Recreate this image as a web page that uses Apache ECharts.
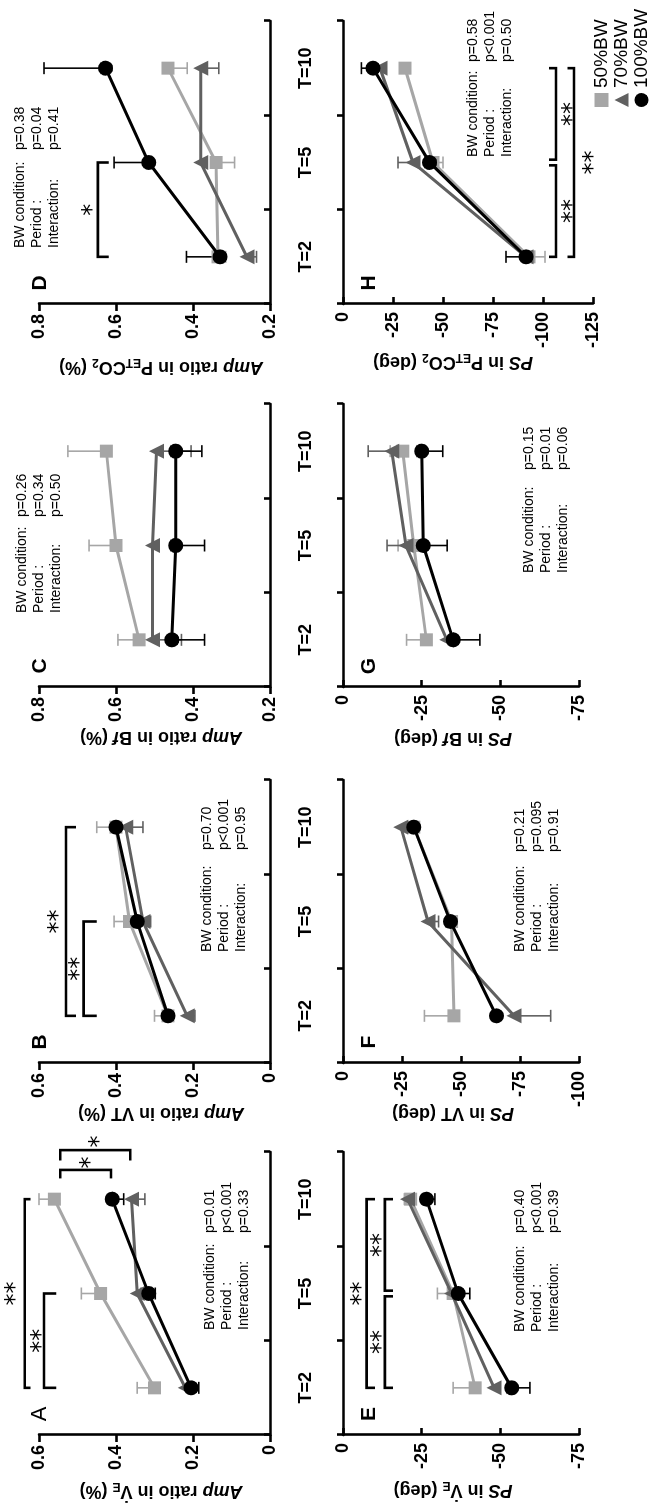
<!DOCTYPE html>
<html>
<head>
<meta charset="utf-8">
<script src="https://cdn.jsdelivr.net/npm/echarts@6/dist/echarts.min.js"></script>
<style>
html, body { margin: 0; padding: 0; background: #fff; }
#page { position: relative; width: 656px; height: 1508px; overflow: hidden; }
/* the figure is drawn landscape and turned a quarter turn to the left */
#main { position: absolute; left: 0; top: 0; width: 1508px; height: 656px;
        transform-origin: 0 0; transform: translateY(1508px) rotate(-90deg); }
</style>
</head>
<body>
<div id="page"><div id="main"></div></div>
<script>
var FONT = '"Liberation Sans", Arial, sans-serif';
var NARROW = '"Liberation Sans Narrow", "Liberation Sans", Arial, sans-serif';

var periods = ['T=2', 'T=5', 'T=10'];
var conditions = ['50%BW', '70%BW', '100%BW'];

// means, rows = 50%BW, 70%BW, 100%BW ; columns = T=2, T=5, T=10
var ampVE  = [[0.30, 0.44, 0.56], [0.22, 0.345, 0.36], [0.205, 0.315, 0.41]];
var ampVT  = [[0.265, 0.365, 0.40], [0.215, 0.33, 0.375], [0.265, 0.345, 0.40]];
var ampBf  = [[0.54, 0.60, 0.625], [0.505, 0.505, 0.495], [0.455, 0.445, 0.445]];
var ampPet = [[0.335, 0.34, 0.465], [0.26, 0.38, 0.38], [0.33, 0.515, 0.627]];
var psVE   = [[-42, -35, -21.5], [-48, -34.5, -20.5], [-53.6, -36.6, -26.5]];
var psVT   = [[-47, -46, -30], [-72.5, -36, -24.5], [-65, -45.5, -30]];
var psBf   = [[-26.5, -22.5, -19], [-33, -20, -15.5], [-35, -25.5, -25]];
var psPet  = [[-93, -45, -31], [-91.5, -35, -18.5], [-91.5, -43.3, -15]];

// one-sided error bars, signed (drawn from mean to mean + value)
var ampVEerr  = [[0.045, 0.05, 0.04], [-0.012, -0.01, -0.035], [-0.02, -0.017, -0.03]];
var ampVTerr  = [[0.035, 0.04, 0.05], [-0.02, -0.02, -0.045], [0, 0, 0]];
var ampBferr  = [[0.055, 0.07, 0.10], [-0.075, 0, -0.09], [-0.085, -0.075, -0.068]];
var ampPeterr = [[-0.02, -0.048, -0.05], [-0.025, 0, -0.047], [0.087, 0.09, 0.16]];
var psVEerr   = [[7, 5, 2], [0, 0, 0], [-5.8, -3.7, -2.7]];
var psVTerr   = [[12.5, 0, 0], [-15.5, -4.5, 0], [0, 0, 0]];
var psBferr   = [[6.3, 5, 4], [0, 6, 7.5], [-8.5, -7.6, -6.7]];
var psPeterr  = [[-8, -5, -2.5], [0, 7.5, 0], [10, 0, 5.8]];

var panelMeans = [ampVE, ampVT, ampBf, ampPet, psVE, psVT, psBf, psPet];
var panelErrs = [ampVEerr, ampVTerr, ampBferr, ampPeterr, psVEerr, psVTerr, psBferr, psPeterr];

var axisMin  = [0, 0, 0.2, 0.2, -75, -100, -75, -125];
var axisMax  = [0.6, 0.6, 0.8, 0.8, 0, 0, 0, 0];
var axisStep = [0.2, 0.2, 0.2, 0.2, 25, 25, 25, 25];

var letters = ['A', 'B', 'C', 'D', 'E', 'F', 'G', 'H'];
var axisTitles = [
  '{bi|Amp}{b| ratio in V\u0307}{s|E}{b| (%)}',
  '{bi|Amp}{b| ratio in VT (%)}',
  '{bi|Amp}{b| ratio in B}{bi|f}{b| (%)}',
  '{bi|Amp}{b| ratio in P}{s|ET}{b|CO}{s|2}{b| (%)}',
  '{bi|PS}{b| in V\u0307}{s|E}{b| (deg)}',
  '{bi|PS}{b| in VT (deg)}',
  '{bi|PS}{b| in B}{bi|f}{b| (deg)}',
  '{bi|PS}{b| in P}{s|ET}{b|CO}{s|2}{b| (deg)}'
];
var statNames = ['BW condition:', 'Period :', 'Interaction:'];
var pValues = [
  ['p=0.01', 'p<0.001', 'p=0.33'],
  ['p=0.70', 'p<0.001', 'p=0.95'],
  ['p=0.26', 'p=0.34', 'p=0.50'],
  ['p=0.38', 'p=0.04', 'p=0.41'],
  ['p=0.40', 'p<0.001', 'p=0.39'],
  ['p=0.21', 'p=0.095', 'p=0.91'],
  ['p=0.15', 'p=0.01', 'p=0.06'],
  ['p=0.58', 'p<0.001', 'p=0.50']
];

// significance brackets across periods (period index, value of bar, value of leg ends)
var brackets = [
  {p: 0, from: 0, to: 2, at: 0.637, end: 0.622, mark: '**', markAt: 0.674},
  {p: 0, from: 0, to: 1, at: 0.587, end: 0.555, mark: '**', markAt: 0.607},
  {p: 1, from: 0, to: 2, at: 0.53, end: 0.504, mark: '**', markAt: 0.561},
  {p: 1, from: 0, to: 1, at: 0.484, end: 0.45, mark: '**', markAt: 0.506},
  {p: 3, from: 0, to: 1, at: 0.647, end: 0.619, mark: '*', markAt: 0.673},
  {p: 4, from: 0, to: 2, at: -7.5, end: -10.2, mark: '**', markAt: -4.4},
  {p: 4, from: 0, to: 0.97, at: -13.3, end: -15.9, mark: '**', markAt: -10.8},
  {p: 4, from: 1.03, to: 2, at: -13.3, end: -15.9, mark: '**', markAt: -10.8},
  {p: 7, from: 0, to: 0.97, at: -106.5, end: -103, mark: '**', markAt: -112.5},
  {p: 7, from: 1.03, to: 2, at: -106.5, end: -103, mark: '**', markAt: -112.5},
  {p: 7, from: 0, to: 2, at: -115.5, end: -112.3, mark: '**', markAt: -123}
];
// brackets between conditions at T=10 in panel A
var sideBrackets = [
  {p: 0, at: 2.31, from: 0.545, to: 0.413, end: 2.22, mark: '*', markX: 2.39, markAt: 0.479},
  {p: 0, at: 2.52, from: 0.545, to: 0.363, end: 2.41, mark: '*', markX: 2.61, markAt: 0.454}
];

// layout
var colLeft = [73, 445, 821, 1204];
var plotW = 283;
var rowTop = [39, 343];
var plotH = [231, 231, 231, 231, 236, 236, 236, 250];
var statPos = [[178, 275, 210], [556, 658, 207], [895, 991, 22], [1260, 1358, 20],
               [176, 275, 520], [556, 656, 520], [935, 1038, 529], [1351, 1446, 473]];
var titleX = [17, 395, 771, 1141, 18, 395, 770, 1146];
var titleY = [161, 453];
var colors = ['#a6a6a6', '#606060', '#000000'];
var symbols = ['rect', 'triangle', 'circle'];
var symSizes = [13, 15, 15];

var myChart = echarts.init(document.getElementById('main'), null, {renderer: 'canvas', width: 1508, height: 656});

function drawErr(params, api) {
  var a = api.coord([api.value(0), api.value(1)]);
  var b = api.coord([api.value(0), api.value(2)]);
  if (Math.abs(a[1] - b[1]) < 0.5) return null;
  var st = {stroke: api.visual('color'), lineWidth: 1.6};
  return {type: 'group', children: [
    {type: 'line', shape: {x1: a[0], y1: a[1], x2: b[0], y2: b[1]}, style: st},
    {type: 'line', shape: {x1: b[0] - 6, y1: b[1], x2: b[0] + 6, y2: b[1]}, style: st}
  ]};
}

function starText(x, y, txt) {
  return {type: 'text', x: x, y: y + 5, style: {text: txt, fontFamily: '"DejaVu Sans", sans-serif',
    fontSize: 24, fill: '#000', align: 'center', verticalAlign: 'middle'}};
}

function drawMarks(p) {
  return function (params, api) {
    var x0 = api.coord([0, axisMax[p]])[0];
    var bw = api.size([1, 0])[0];
    function X(i) { return x0 + i * bw; }
    function Y(v) { return api.coord([0, v])[1]; }
    var kids = [];
    var st = {stroke: '#000', lineWidth: 2.6, fill: null};
    brackets.forEach(function (b) {
      if (b.p !== p) return;
      kids.push({type: 'polyline', shape: {points: [[X(b.from), Y(b.end)], [X(b.from), Y(b.at)],
        [X(b.to), Y(b.at)], [X(b.to), Y(b.end)]]}, style: st});
      kids.push(starText(X((b.from + b.to) / 2), Y(b.markAt), b.mark));
    });
    sideBrackets.forEach(function (b) {
      if (b.p !== p) return;
      kids.push({type: 'polyline', shape: {points: [[X(b.end), Y(b.from)], [X(b.at), Y(b.from)],
        [X(b.at), Y(b.to)], [X(b.end), Y(b.to)]]}, style: st});
      kids.push(starText(X(b.markX), Y(b.markAt), b.mark));
    });
    return {type: 'group', children: kids};
  };
}

var grids = [], xAxes = [], yAxes = [], series = [], graphics = [];
var axisLine = {show: true, onZero: false, lineStyle: {color: '#000', width: 2.6}};

for (var p = 0; p < 8; p++) {
  var col = p % 4, row = p < 4 ? 0 : 1;
  grids.push({left: colLeft[col], top: rowTop[row], width: plotW, height: plotH[p],
    containLabel: false, outerBoundsMode: 'none'});
  xAxes.push({
    type: 'category', gridIndex: p, data: periods, boundaryGap: true,
    position: row === 0 ? 'bottom' : 'top',
    axisLine: axisLine,
    axisTick: {show: true, inside: row === 0, length: 6, lineStyle: {color: '#000', width: 2.6}},
    axisLabel: {show: row === 0, margin: 27, fontSize: 18, fontWeight: 'bold', color: '#000', fontFamily: FONT},
    splitLine: {show: false}
  });
  yAxes.push({
    type: 'value', gridIndex: p, min: axisMin[p], max: axisMax[p], interval: axisStep[p],
    axisLine: axisLine,
    axisTick: {show: true, inside: row === 1, length: 7, lineStyle: {color: '#000', width: 2.6}},
    axisLabel: {margin: row === 0 ? 10 : 8, fontSize: 18, fontWeight: 'bold', color: '#000', fontFamily: FONT},
    splitLine: {show: false}
  });

  for (var c = 0; c < 3; c++) {
    var means = panelMeans[p][c], errs = panelErrs[p][c];
    series.push({
      type: 'custom', name: 'err', xAxisIndex: p, yAxisIndex: p, z: 2, silent: true,
      itemStyle: {color: colors[c]}, renderItem: drawErr, encode: {x: 0, y: [1, 2]},
      data: means.map(function (v, i) { return [i, v, v + errs[i]]; })
    });
    series.push({
      type: 'line', name: conditions[c], xAxisIndex: p, yAxisIndex: p, z: 3 + c, silent: true,
      data: means, symbol: symbols[c], symbolSize: symSizes[c], showSymbol: true,
      lineStyle: {color: colors[c], width: 3}, itemStyle: {color: colors[c]},
      emphasis: {disabled: true}
    });
  }
  series.push({
    type: 'custom', name: 'marks', xAxisIndex: p, yAxisIndex: p, z: 8, silent: true, clip: false,
    renderItem: drawMarks(p), data: [[0, axisMax[p]]]
  });

  // panel letter
  graphics.push({type: 'text', x: colLeft[col] + 21, y: row === 0 ? 40 : 369, silent: true,
    style: {text: letters[p], fontSize: p === 0 ? 22 : 21, fontWeight: p === 0 ? 'normal' : 'bold',
      fontFamily: FONT, fill: '#000', align: 'center', verticalAlign: 'middle'}});
  // axis title
  graphics.push({type: 'text', x: titleX[p], y: titleY[row], rotation: Math.PI / 2, silent: true,
    style: {text: axisTitles[p], align: 'center', verticalAlign: 'middle', fill: '#000',
      rich: {
        b: {fontSize: 18, fontWeight: 'bold', fontFamily: FONT, lineHeight: 22, verticalAlign: 'middle'},
        bi: {fontSize: 18, fontWeight: 'bold', fontStyle: 'italic', fontFamily: FONT, lineHeight: 22, verticalAlign: 'middle'},
        s: {fontSize: 12, fontWeight: 'bold', fontFamily: FONT, lineHeight: 12, verticalAlign: 'bottom'}
      }}});
  // statistics
  graphics.push({type: 'text', x: statPos[p][0], y: statPos[p][2] - 8.5, silent: true,
    style: {text: statNames.join('\n'), fontSize: 14, lineHeight: 17, fontFamily: NARROW,
      fill: '#000', align: 'left', verticalAlign: 'top'}});
  graphics.push({type: 'text', x: statPos[p][1], y: statPos[p][2] - 8.5, silent: true,
    style: {text: pValues[p].join('\n'), fontSize: 14, lineHeight: 17, fontFamily: NARROW,
      fill: '#000', align: 'left', verticalAlign: 'top'}});
}

var option = {
  animation: false,
  textStyle: {fontFamily: FONT},
  legend: {
    data: [{name: '50%BW', icon: 'rect'}, {name: '70%BW', icon: 'triangle'}, {name: '100%BW', icon: 'circle'}],
    orient: 'vertical', left: 1401, top: 592, itemWidth: 14, itemHeight: 14, itemGap: 1,
    selectedMode: false, padding: 0,
    textStyle: {fontSize: 19, lineHeight: 18, color: '#000', fontFamily: FONT}
  },
  grid: grids,
  xAxis: xAxes,
  yAxis: yAxes,
  series: series,
  graphic: graphics
};
myChart.setOption(option);
</script>
</body>
</html>
